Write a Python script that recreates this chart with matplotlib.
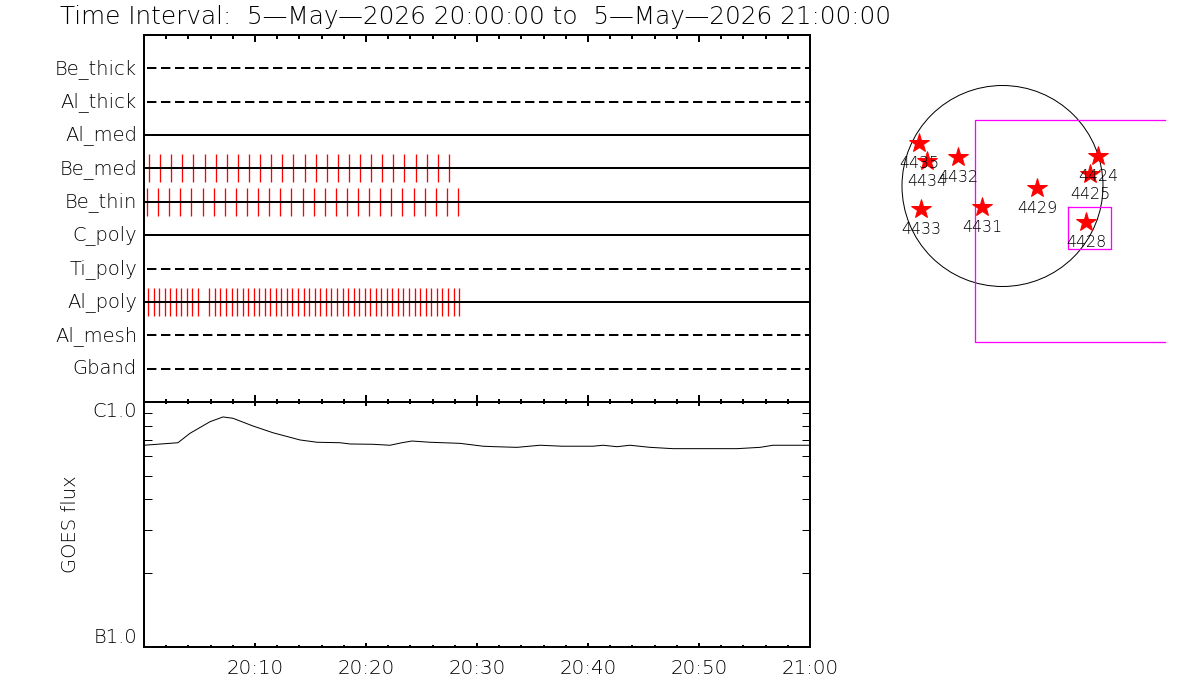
import matplotlib
matplotlib.use("Agg")
import matplotlib.pyplot as plt
from matplotlib.transforms import ScaledTranslation
import numpy as np

W, H = 1200, 700
plt.rcParams['font.family'] = 'DejaVu Sans'
plt.rcParams['font.weight'] = 200
plt.rcParams['lines.scale_dashes'] = False

TITLE = "Time Interval:  5-May-2026 20:00:00 to  5-May-2026 21:00:00".replace("-", "\u2014")

channels = ["Be_thick", "Al_thick", "Al_med", "Be_med", "Be_thin",
            "C_poly", "Ti_poly", "Al_poly", "Al_mesh", "Gband"]
channel_level = [10, 9, 8, 7, 6, 5, 4, 3, 2, 1]
solid_channels = ["Al_med", "Be_med", "Be_thin", "C_poly", "Al_poly"]

# exposure times, minutes after 20:00
be_med_times = [0.48, 1.47, 2.46, 3.45, 4.44, 5.53, 6.52, 7.51, 8.50, 9.49, 10.48, 11.47, 12.46, 13.45,
                14.53, 15.53, 16.52, 17.51, 18.50, 19.49, 20.48, 21.47, 22.46, 23.45, 24.53, 25.53,
                26.52, 27.51]
be_thin_times = [0.30, 1.29, 2.28, 3.27, 4.26, 5.35, 6.34, 7.33, 8.32, 9.31, 10.30, 11.29, 12.28, 13.27,
                 14.35, 15.35, 16.34, 17.33, 18.32, 19.31, 20.30, 21.29, 22.28, 23.27, 24.35, 25.35,
                 26.34, 27.33, 28.32]
al_poly_times = [0.39, 0.93, 1.38, 1.92, 2.37, 2.91, 3.36, 3.90, 4.35, 4.89, 5.89, 6.43, 6.88, 7.42,
                 7.96, 8.41, 8.95, 9.40, 9.94, 10.39, 10.93, 11.38, 11.92, 12.37, 12.91, 13.36, 13.90,
                 14.41, 14.89, 15.44, 15.89, 16.43, 16.88, 17.42, 17.96, 18.41, 18.95, 19.40, 19.94,
                 20.39, 20.93, 21.38, 21.92, 22.37, 22.91, 23.36, 23.90, 24.44, 24.89, 25.41, 25.89,
                 26.43, 26.88, 27.42, 27.93, 28.41]
exposures = {"Be_med": be_med_times, "Be_thin": be_thin_times, "Al_poly": al_poly_times}

# GOES flux (units of 1e-7 W/m2 -> B1.0 = 1, C1.0 = 10)
goes_minutes = [0, 3.06, 4.14, 5.95, 7.12, 8.02, 9.82, 11.62, 14.05, 15.59, 17.66, 18.56, 20.63, 22.16,
                23.24, 24.14, 25.77, 28.47, 30.54, 31.62, 33.60, 35.68, 37.66, 40.45, 41.35, 42.61,
                43.78, 45.59, 47.66, 53.42, 55.50, 56.67, 60]
goes_flux = [6.66, 6.82, 7.45, 8.31, 8.69, 8.58, 7.98, 7.49, 7.00, 6.85, 6.82, 6.74, 6.72, 6.66,
             6.82, 6.93, 6.85, 6.78, 6.60, 6.57, 6.53, 6.66, 6.60, 6.60, 6.66, 6.57,
             6.66, 6.53, 6.45, 6.45, 6.53, 6.66, 6.66]

time_tick_minutes = [10, 20, 30, 40, 50, 60]
time_tick_labels = ["20:10", "20:20", "20:30", "20:40", "20:50", "21:00"]

# active regions on the solar disc
ar_numbers = ["4424", "4425", "4428", "4429", "4431", "4432", "4433", "4434", "4435"]
ar_x = [95.5, 87.5, 83.5, 34.5, -20.5, -44.5, -81.5, -75.5, -83.5]
ar_y = [30, 12, -36, -2, -21, 29, -23, 25, 43]
disc_radius = 100.5
fov_x = [162.5, -28, -28, 162.5]
fov_y = [66, 66, -156, -156]
box_x = [65.5, 108.5, 108.5, 65.5, 65.5]
box_y = [-21, -21, -63, -63, -21]


def axes_px(left, top, right, bottom):
    return [left / W, 1 - bottom / H, (right - left) / W, (bottom - top) / H]


PX = 72 / 100  # one pixel in points
TXT = "black"
fig = plt.figure(figsize=(W / 100, H / 100), dpi=100, facecolor="white")

# ---------- upper panel ----------
ax = fig.add_axes(axes_px(144, 35, 810, 402))
ax.set_xlim(0, 60)
ax.set_ylim(0, 11)
for name, level in zip(channels, channel_level):
    if name in solid_channels:
        ax.plot([0, 60], [level, level], color="k", lw=2 * PX, solid_capstyle="butt", zorder=3)
    else:
        ax.plot([0.3, 60], [level, level], color="k", lw=2 * PX, linestyle=(0, (9.4 * PX, 4.6 * PX)),
                dash_capstyle="butt", zorder=3)
    if name in exposures:
        ax.vlines(exposures[name], level - 0.42, level + 0.42, color="red", lw=1.3 * PX, zorder=2)
ax.set_yticks(channel_level)
ax.set_yticklabels(channels, fontsize=14, color=TXT)
ax.tick_params(axis="y", length=0, pad=5.0)
lift = ScaledTranslation(0, 1.5 / 72, fig.dpi_scale_trans)
for lab in ax.get_yticklabels():
    lab.set_transform(lab.get_transform() + lift)
ax.set_xticks(time_tick_minutes)
ax.set_xticks(np.arange(2, 60, 2), minor=True)
ax.tick_params(axis="x", which="major", top=True, bottom=True, direction="in", length=6.7 * PX, width=2 * PX, labelbottom=False)
ax.tick_params(axis="x", which="minor", top=True, bottom=True, direction="in", length=3.5 * PX, width=2 * PX)

# ---------- lower panel ----------
ax2 = fig.add_axes(axes_px(144, 402, 810, 647))
ax2.set_xlim(0, 60)
ax2.set_yscale("log")
ax2.set_ylim(1, 10)
ax2.plot(goes_minutes, goes_flux, color="k", lw=1.0 * PX)
ax2.set_xticks(time_tick_minutes)
ax2.set_xticklabels(time_tick_labels, fontsize=14.3, color=TXT)
ax2.set_xticks(np.arange(2, 60, 2), minor=True)
ax2.tick_params(axis="x", which="major", top=True, bottom=True, direction="in", length=4 * PX, width=2 * PX, pad=9)
ax2.tick_params(axis="x", which="minor", top=True, bottom=True, direction="in", length=2 * PX, width=2 * PX)
ax2.set_yticks([1, 10])
ax2.set_yticklabels(["B1.0", "C1.0"], fontsize=14, color=TXT)
ax2.get_yticklabels()[0].set_va("bottom")
ax2.get_yticklabels()[1].set_va("top")
ax2.tick_params(axis="y", which="major", length=0, pad=5.0)
ax2.set_yticks([2, 3, 4, 5, 6, 7, 8, 9], minor=True)
ax2.set_yticklabels([], minor=True)
ax2.tick_params(axis="y", which="minor", left=True, right=True, direction="in", length=8 * PX, width=1 * PX)
fig.text(70 / W, 1 - 524 / H, "GOES flux", rotation=90, ha="center", va="center", fontsize=14, color=TXT)

for a in (ax, ax2):
    for s in a.spines.values():
        s.set_linewidth(2 * PX)

# ---------- solar disc panel ----------
ax3 = fig.add_axes(axes_px(880, 60, 1180, 360))
cx, cy = 1002.5 - 880, 186 - 60
ax3.set_xlim(-cx, 300 - cx)
ax3.set_ylim(cy - 300, cy)
ax3.axis("off")
ax3.add_patch(plt.Circle((0, 0), disc_radius, fill=False, ec="k", lw=1 * PX))
ax3.plot(fov_x, fov_y, color="#ff00ff", lw=1.3 * PX)
ax3.plot(box_x, box_y, color="#ff00ff", lw=1.3 * PX)
ax3.plot(ar_x, ar_y, linestyle="none", marker="*", ms=20 * PX, mfc="red", mec="red", mew=1 * PX)
for n, x, y in zip(ar_numbers, ar_x, ar_y):
    ax3.annotate(n, (x, y), xytext=(0, -21 * PX), textcoords="offset points", ha="center", va="center",
                 fontsize=11.5, color=TXT)

fig.text(60 / W, 1 - 17 / H, TITLE, ha="left", va="center", fontsize=17.8, color=TXT)

fig.savefig("out.png", dpi=100)
